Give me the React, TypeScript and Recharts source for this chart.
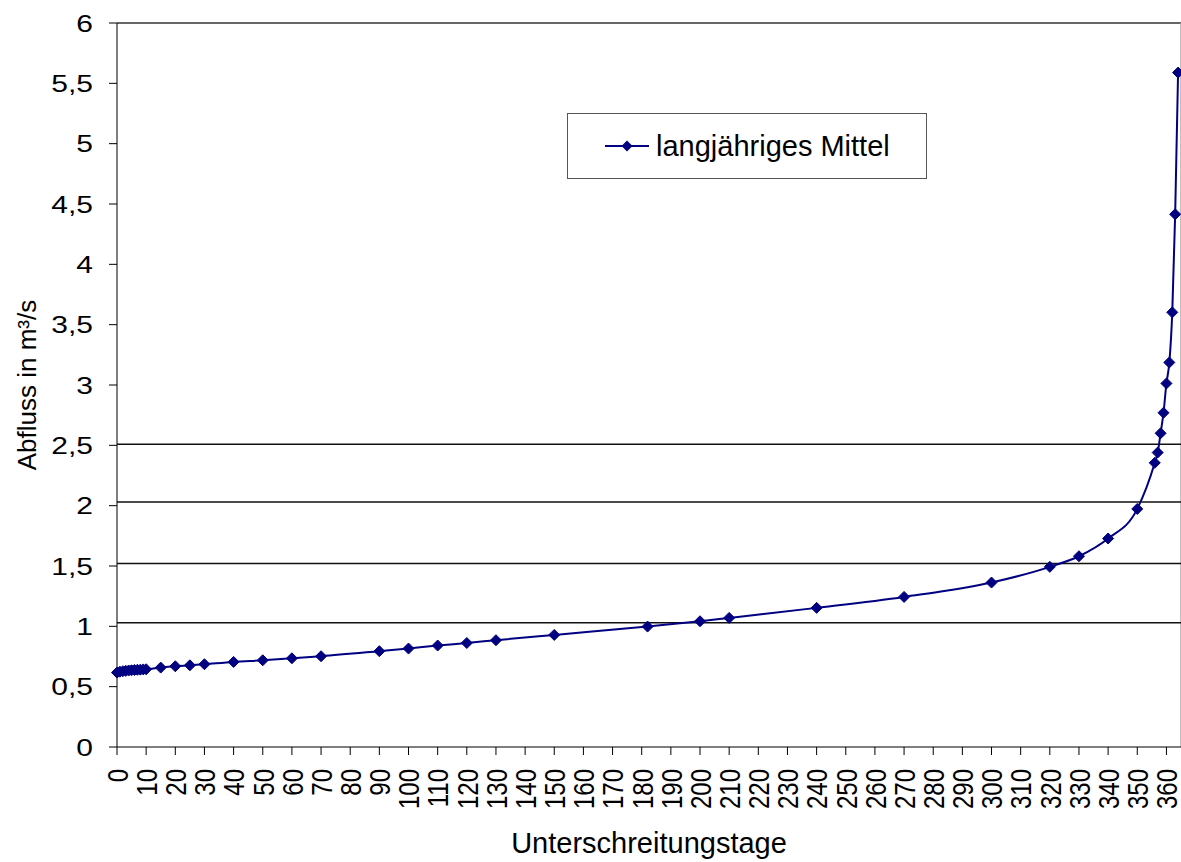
import { Legend, Line, LineChart, ReferenceLine, XAxis, YAxis } from "recharts";

const DAYS = [
  0, 1, 2, 3, 4, 5, 6, 7, 8, 9, 10, 15, 20, 25, 30, 40, 50, 60, 70, 90, 100, 110, 120, 130, 150, 182, 200,
  210, 240, 270, 300, 320, 330, 340, 350, 356, 357, 358, 359, 360, 361, 362, 363, 364,
];
const FLOW = [
  0.617, 0.624, 0.628, 0.631, 0.634, 0.636, 0.638, 0.64, 0.641, 0.643, 0.644, 0.658, 0.669, 0.677, 0.686,
  0.705, 0.719, 0.735, 0.752, 0.794, 0.816, 0.841, 0.862, 0.885, 0.929, 0.998, 1.042, 1.07, 1.153, 1.244,
  1.363, 1.493, 1.581, 1.728, 1.973, 2.355, 2.44, 2.6, 2.77, 3.013, 3.187, 3.602, 4.415, 5.589,
];
const X_TICKS = [
  0, 10, 20, 30, 40, 50, 60, 70, 80, 90, 100, 110, 120, 130, 140, 150, 160, 170, 180, 190, 200, 210, 220,
  230, 240, 250, 260, 270, 280, 290, 300, 310, 320, 330, 340, 350, 360,
];
const Y_TICKS = [0, 0.5, 1, 1.5, 2, 2.5, 3, 3.5, 4, 4.5, 5, 5.5, 6];
// Hilfslinien (leicht über den Teilstrichen gezeichnet)
const H_LINES = [1.03, 1.52, 2.03, 2.51];

const SERIES = "langjähriges Mittel";
const NAVY = "#000080";
const FONT = "'Liberation Sans', Arial, sans-serif";

const data = DAYS.map((d, i) => ({ tag: d, abfluss: FLOW[i] }));

const fmtY = (v: number) => String(v).replace(".", ",");

function Diamond(props: any) {
  const { cx, cy, index } = props;
  if (cx == null || cy == null) return null;
  const r = 5.5;
  return (
    <path
      key={`d-${index}`}
      d={`M${cx},${cy - r} L${cx + r},${cy} L${cx},${cy + r} L${cx - r},${cy} Z`}
      fill={NAVY}
      stroke={NAVY}
    />
  );
}

function XTick({ x, y, payload }: any) {
  return (
    <text
      transform={`translate(${x},${y}) scale(1.25,1) rotate(-90)`}
      textAnchor="end"
      dy="0.36em"
      fontSize={24}
      fontFamily={FONT}
      fill="#000"
    >
      {payload.value}
    </text>
  );
}

function YTick({ x, y, payload }: any) {
  return (
    <text
      transform={`translate(${x},${y}) scale(1.25,1)`}
      textAnchor="end"
      dy="0.36em"
      fontSize={24}
      fontFamily={FONT}
      fill="#000"
    >
      {fmtY(payload.value)}
    </text>
  );
}

function LegendBox() {
  return (
    <div
      style={{
        width: 358,
        height: 64,
        border: "1px solid #555",
        background: "#fff",
        display: "flex",
        alignItems: "center",
        fontFamily: FONT,
        fontSize: 29,
        color: "#000",
      }}
    >
      <svg width={88} height={20} style={{ flex: "none" }}>
        <line x1={37} y1={10} x2={81} y2={10} stroke={NAVY} strokeWidth={2} />
        <path d="M59,4.5 L64.5,10 L59,15.5 L53.5,10 Z" fill={NAVY} />
      </svg>
      <span>{SERIES}</span>
    </div>
  );
}

export default function App() {
  return (
    <div style={{ position: "absolute", left: 0, top: 0, background: "#fff" }}>
      <LineChart width={1181} height={862} data={data} margin={{ top: 23, right: 0, bottom: 0, left: 0 }}>
        <XAxis
          dataKey="tag"
          type="number"
          domain={[0, 365]}
          ticks={X_TICKS}
          interval={0}
          height={115}
          tickSize={8}
          tickMargin={14}
          stroke="#000"
          tick={<XTick />}
          label={(p: any) => {
            const vb = p.viewBox;
            return (
              <text
                x={vb.x + vb.width / 2}
                y={vb.y + vb.height - 9}
                textAnchor="middle"
                fontSize={29}
                fontFamily={FONT}
                fill="#000"
              >
                Unterschreitungstage
              </text>
            );
          }}
        />
        <YAxis
          type="number"
          domain={[0, 6]}
          ticks={Y_TICKS}
          interval={0}
          width={117}
          tickSize={8}
          tickMargin={16}
          stroke="#000"
          tick={<YTick />}
          label={(p: any) => {
            const vb = p.viewBox;
            const cx = vb.x + 36;
            const cy = vb.y + vb.height / 2;
            return (
              <text
                x={cx}
                y={cy}
                transform={`rotate(-90, ${cx}, ${cy})`}
                textAnchor="middle"
                fontSize={26}
                fontFamily={FONT}
                fill="#000"
              >
                Abfluss in m³/s
              </text>
            );
          }}
        />
        <ReferenceLine y={6} stroke="#333" strokeWidth={1.5} />
        <ReferenceLine x={365} stroke="#aaa" strokeWidth={1.5} />
        {H_LINES.map((v) => (
          <ReferenceLine key={v} y={v} stroke="#111" strokeWidth={1.5} />
        ))}
        <Legend
          layout="horizontal"
          verticalAlign="middle"
          align="center"
          content={<LegendBox />}
          wrapperStyle={{ left: 567, top: 113, width: 360, height: 66 }}
        />
        <Line
          type="monotone"
          dataKey="abfluss"
          name={SERIES}
          stroke={NAVY}
          strokeWidth={2}
          dot={<Diamond />}
          activeDot={false}
          isAnimationActive={false}
        />
      </LineChart>
    </div>
  );
}
